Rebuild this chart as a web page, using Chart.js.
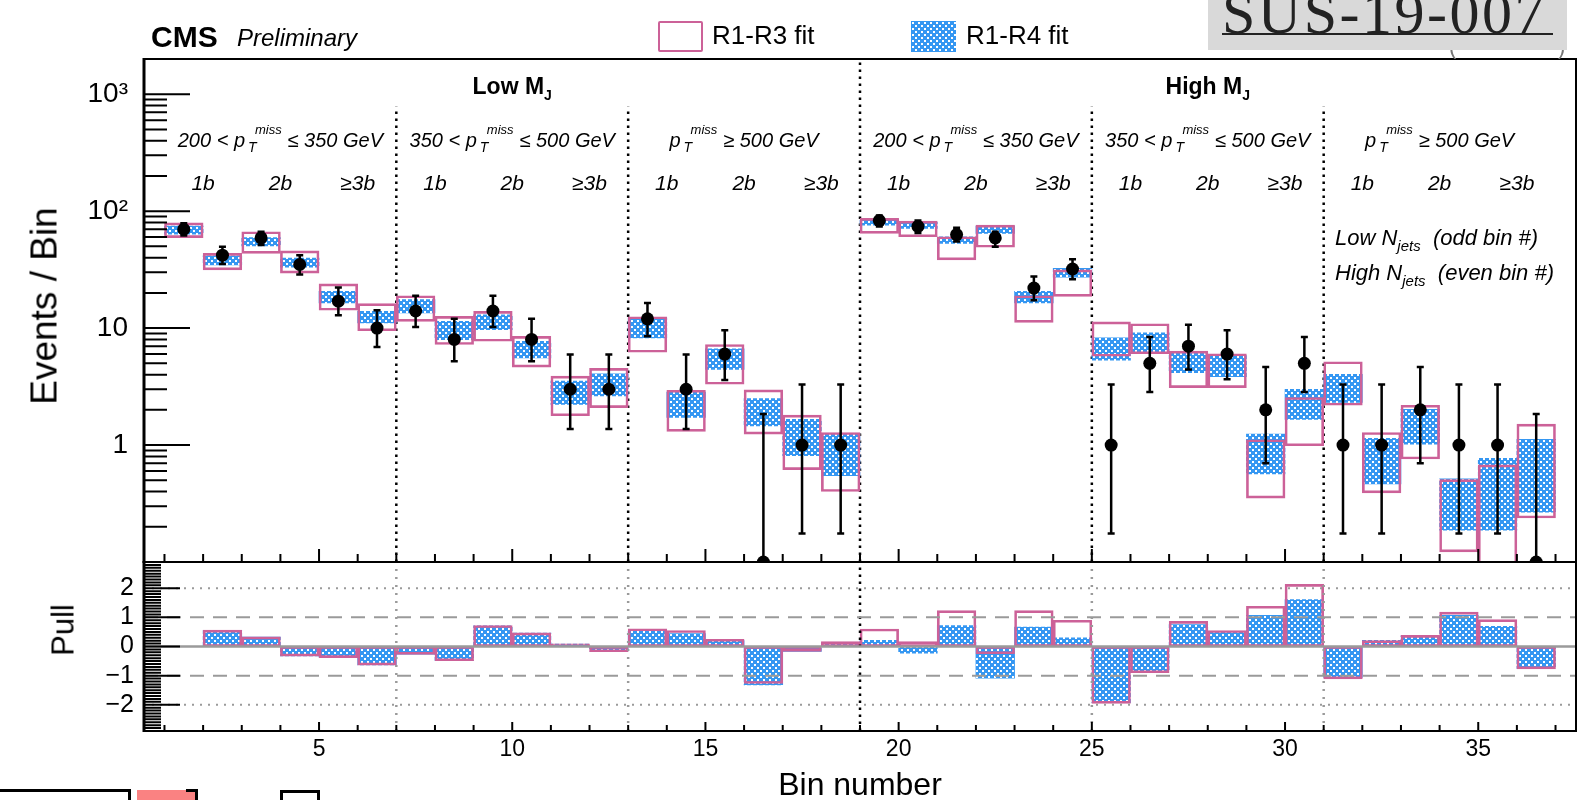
<!DOCTYPE html>
<html lang="en">
<head>
<meta charset="UTF-8" />
<title>SUS-19-007 : R1-R3 / R1-R4 fits</title>
<script src="https://cdn.jsdelivr.net/npm/chart.js"></script>
<style>
  html, body { margin: 0; padding: 0; background: #fff; }
  body { width: 1586px; height: 800px; position: relative; overflow: hidden;
         font-family: "Liberation Sans", Arial, sans-serif; }
  canvas.plot { position: absolute; left: 0; }
  .txt { position: absolute; line-height: 1; white-space: nowrap; color: #000; }
  .ms { position: relative; display: inline-block; width: 37px; height: 1px; }
  .ms .up { position: absolute; left: 10px; bottom: 11px; font-size: 13px; }
  .ms .dn { position: absolute; left: 3px; top: -6px; font-size: 14px; }
  .sbj { position: relative; top: 6px; font-size: 14px; }
  .sbn { position: relative; top: 6px; font-size: 15px; }
  .box { position: absolute; box-sizing: border-box; }
</style>
</head>
<body>

<canvas id="upper" class="plot" width="1586" height="523" style="top:49px"></canvas>
<canvas id="lower" class="plot" width="1586" height="248" style="top:552px"></canvas>

<!-- legend -->
<div class="box" style="left:658px;top:21px;width:45px;height:31px;border:2px solid #cc6198;border-radius:2px"></div>
<canvas id="legHatch" width="45" height="31" style="position:absolute;left:911px;top:21px"></canvas>

<!-- stuck-on label in the top right corner -->
<div class="txt" style="left:1449px;top:36px;font-size:22px;color:#777">(</div>
<div class="txt" style="left:1558px;top:36px;font-size:22px;color:#777">)</div>
<div class="box" style="left:1208px;top:0;width:359px;height:50px;background:#d9d9d9"></div>
<div class="txt" style="left:1222px;top:-17px;font-family:'Liberation Serif',serif;font-size:60px;letter-spacing:2.5px;color:#222">SUS-19-007</div>
<div class="box" style="left:1222px;top:33px;width:331px;height:2px;background:#222"></div>

<!-- cut-off boxes at the bottom left -->
<div class="box" style="left:-3px;top:789px;width:134px;height:20px;border:3px solid #000"></div>
<div class="box" style="left:137px;top:790px;width:61px;height:20px;background:#fa8282"></div>
<div class="box" style="left:186px;top:789px;width:12px;height:20px;border-top:3px solid #000;border-right:3px solid #000"></div>
<div class="box" style="left:280px;top:790px;width:40px;height:20px;border:3px solid #000"></div>

<script>
// ---------------- DATA ----------------
const bins = [1, 2, 3, 4, 5, 6, 7, 8, 9, 10, 11, 12, 13, 14, 15, 16, 17, 18,
              19, 20, 21, 22, 23, 24, 25, 26, 27, 28, 29, 30, 31, 32, 33, 34, 35, 36];

// observed events and their error bar ends
const observed   = [70, 42, 59, 35, 17, 10, 14, 8, 14, 8, 3, 3, 12, 3, 6, 0, 1, 1,
                    83, 74, 63, 59, 22, 32, 1, 5, 7, 6, 2, 5, 1, 1, 2, 1, 1, 0];
const obsErrLow  = [62, 35.4, 51.4, 28.7, 12.9, 6.9, 10.2, 5.2, 10.2, 5.2, 1.37, 1.37, 8.5, 1.37, 3.6, 0, 0.175, 0.175,
                    74, 65, 55, 49.7, 17.3, 26.2, 0.175, 2.84, 4.43, 3.65, 0.7, 2.84, 0.175, 0.175, 0.7, 0.175, 0.175, 0];
const obsErrHigh = [79, 49.7, 66.7, 42, 22.2, 14.2, 18.9, 12, 18.9, 12, 5.95, 5.95, 16.4, 5.95, 9.6, 1.84, 3.3, 3.3,
                    92, 83, 72, 66.7, 27.6, 38.8, 3.3, 8.4, 10.7, 9.6, 4.64, 8.4, 3.3, 3.3, 4.64, 3.3, 3.3, 1.84];

// R1-R3 fit band (pink boxes)
const r13Low  = [59.3, 31.5, 43.6, 29.5, 14.2, 9.5, 11.4, 7.24, 7.72, 4.64, 1.78, 2.09, 6.22, 1.31, 3.31, 1.24, 0.616, 0.401,
                 64.6, 60.4, 38.3, 49.1, 11.2, 18.7, 5.75, 6.03, 3.1, 3.1, 0.352, 0.986, 2.19, 0.39, 0.76, 0.122, 0.05, 0.238];
const r13High = [79.5, 43.6, 66.7, 45.7, 23.9, 16.2, 18.9, 12.6, 13.9, 8.51, 3.89, 4.52, 12.5, 2.94, 7.24, 2.96, 1.8, 1.28,
                 86.7, 82.2, 60.4, 76, 18.9, 31.5, 11.3, 10.9, 6.35, 6.03, 1.11, 2.55, 5.16, 1.28, 2.19, 0.507, 0.676, 1.51];

// R1-R4 fit band (blue hatch)
const r14Low  = [63.7, 34.7, 50.4, 33.2, 16.4, 11.1, 13.5, 7.98, 9.71, 5.57, 2.23, 2.63, 8.26, 1.72, 4.43, 1.46, 0.811, 0.548,
                 76, 71.2, 53.1, 64.6, 16.4, 27.3, 5.32, 6.15, 4.16, 3.85, 0.567, 1.66, 2.31, 0.466, 1.02, 0.187, 0.187, 0.267];
const r14High = [74.5, 41.4, 59.3, 39.6, 20.6, 13.9, 17.5, 11.4, 13, 7.72, 3.53, 4.07, 12.2, 2.84, 6.65, 2.5, 1.66, 1.24,
                 85, 80.1, 60.4, 74.5, 20.6, 32.5, 8.26, 9.1, 6.15, 5.83, 1.24, 3, 4.02, 1.14, 2.02, 0.514, 0.77, 1.12];

// pulls
const pullR13 = [0, 0.56, 0.33, -0.33, -0.38, -0.64, -0.27, -0.49, 0.72, 0.47, 0.09, -0.18, 0.61, 0.55, 0.25, -1.27, -0.17, 0.17,
                 0.6, 0.17, 1.23, -0.25, 1.23, 0.9, -1.95, -0.9, 0.86, 0.55, 1.38, 2.13, -1.11, 0.2, 0.38, 1.18, 0.92, -0.77];
const pullR14 = [0, 0.55, 0.32, -0.32, -0.37, -0.63, -0.26, -0.48, 0.71, 0.46, 0.08, -0.15, 0.52, 0.44, 0.2, -1.32, -0.17, 0.11,
                 0.21, -0.23, 0.72, -1.09, 0.67, 0.3, -1.93, -0.86, 0.75, 0.49, 1.07, 1.61, -1.06, 0.21, 0.37, 1.07, 0.69, -0.75];

// region dividers and labels
const metEdges   = [7, 13, 25, 31];
const mjEdge     = 19;
const metTop     = 780;           // where the short dividers stop
const groupCenters = [4, 10, 16, 22, 28, 34];
const metLabels  = ['200 &lt; p{T} &le; 350 GeV', '350 &lt; p{T} &le; 500 GeV', 'p{T} &ge; 500 GeV',
                    '200 &lt; p{T} &le; 350 GeV', '350 &lt; p{T} &le; 500 GeV', 'p{T} &ge; 500 GeV'];
const bLabels    = ['1b', '2b', '&ge;3b'];
const xTicks     = [5, 10, 15, 20, 25, 30, 35];
const yTicks     = [1, 10, 100, 1000];
const yTickText  = {1: '1', 10: '10', 100: '10\u00b2', 1000: '10\u00b3'};
const pullTicks  = [-2, -1, 0, 1, 2];

const X_MIN = 0.47, X_MAX = 37.53;
const Y_MIN = 0.1, Y_MAX = 2000;
const PULL_MIN = -2.9, PULL_MAX = 2.9;

const PINK = '#cc6198';
const BLUE = '#3597f2';
const GRAY = '#9a9a9a';

Chart.defaults.font.family = "'Liberation Sans', Arial, sans-serif";
Chart.defaults.color = '#000';

// blue hatch like the ROOT fill style
function makeHatch(ctx) {
  const c = document.createElement('canvas');
  c.width = 6; c.height = 6;
  const g = c.getContext('2d');
  g.fillStyle = BLUE; g.fillRect(0, 0, 6, 6);
  g.fillStyle = '#fff';
  g.fillRect(1, 1, 2, 2);
  g.fillRect(4, 4, 2, 2);
  return ctx.createPattern(c, 'repeat');
}

const centers = bins.map(b => b + 0.5);

// inward ROOT style ticks and frame
function rootAxes(cfg) {
  return {
    id: 'rootAxes',
    afterDraw(chart) {
      const {ctx, chartArea: a, scales: {x, y}} = chart;
      ctx.save();
      ctx.strokeStyle = '#000';
      ctx.lineWidth = 2;
      ctx.beginPath();
      cfg.yMinor.forEach(v => { const p = y.getPixelForValue(v); ctx.moveTo(a.left, p); ctx.lineTo(a.left + cfg.yMinorLen, p); });
      cfg.yMajor.forEach(v => { const p = y.getPixelForValue(v); ctx.moveTo(a.left, p); ctx.lineTo(a.left + cfg.yMajorLen, p); });
      cfg.xMinor.forEach(v => { const p = x.getPixelForValue(v); ctx.moveTo(p, a.bottom); ctx.lineTo(p, a.bottom - cfg.xMinorLen); });
      cfg.xMajor.forEach(v => { const p = x.getPixelForValue(v); ctx.moveTo(p, a.bottom); ctx.lineTo(p, a.bottom - cfg.xMajorLen); });
      ctx.stroke();
      ctx.strokeRect(a.left, a.top, a.right - a.left, a.bottom - a.top);
      ctx.lineWidth = 3;
      ctx.beginPath(); ctx.moveTo(a.left, a.top - 1); ctx.lineTo(a.left, a.bottom + 1); ctx.stroke();
      ctx.restore();
    }
  };
}

// error bars on the data points
const errorBars = {
  id: 'errorBars',
  afterDatasetsDraw(chart) {
    const {ctx, chartArea: a, scales: {x, y}} = chart;
    ctx.save();
    ctx.beginPath(); ctx.rect(a.left, a.top, a.right - a.left, a.bottom - a.top); ctx.clip();
    ctx.strokeStyle = '#000';
    ctx.lineWidth = 2.5;
    centers.forEach((c, i) => {
      const px = x.getPixelForValue(c);
      const lo = y.getPixelForValue(Math.max(obsErrLow[i], Y_MIN));
      const hi = y.getPixelForValue(obsErrHigh[i]);
      ctx.beginPath();
      ctx.moveTo(px, lo); ctx.lineTo(px, hi);
      ctx.moveTo(px - 3.5, hi); ctx.lineTo(px + 3.5, hi);
      if (obsErrLow[i] > Y_MIN) { ctx.moveTo(px - 3.5, lo); ctx.lineTo(px + 3.5, lo); }
      ctx.stroke();
    });
    ctx.restore();
  }
};

const upperCtx = document.getElementById('upper').getContext('2d');
const hatch = makeHatch(upperCtx);

function vline(xv, y0, y1, color, dash, order) {
  return { type: 'line', data: [{x: xv, y: y0}, {x: xv, y: y1}], borderColor: color, borderWidth: 2.5,
           borderDash: dash, pointRadius: 0, order: order, clip: 0 };
}
function hline(yv, color, dash, width, order) {
  return { type: 'line', data: [{x: X_MIN, y: yv}, {x: X_MAX, y: yv}], borderColor: color, borderWidth: width,
           borderDash: dash, pointRadius: 0, order: order, clip: 0 };
}

const barCommon = { grouped: false, barPercentage: 1, categoryPercentage: 1, borderSkipped: false, clip: 0 };

// minor tick lists
const upMinor = [];
[0.1, 1, 10, 100].forEach(d => { for (let k = 2; k <= 9; k++) upMinor.push(k * d); });
const intMinor = [];
for (let k = 1; k <= 37; k++) if (k % 5) intMinor.push(k);
const pullMinor = [];
for (let k = -29; k <= 29; k++) if (k % 10) pullMinor.push(k / 10);

// fixed axis boxes, no label overhang padding
const fixY = s => { s.width = 144; s.paddingTop = 0; s.paddingBottom = 0; };
const fixX = s => { s.height = 69; s.paddingLeft = 0; s.paddingRight = 0; };

const upper = new Chart(upperCtx, {
  type: 'bar',
  data: {
    datasets: [
      { type: 'scatter', label: 'Data', data: centers.map((c, i) => ({x: c, y: Math.max(observed[i], Y_MIN)})),
        pointRadius: 6.5, pointHoverRadius: 6.5, backgroundColor: '#000', borderWidth: 0, order: 0, clip: 0 },
      Object.assign({ label: 'R1-R3 fit', data: centers.map((c, i) => ({x: c, y: [r13Low[i], r13High[i]]})),
        backgroundColor: 'rgba(0,0,0,0)', borderColor: PINK, borderWidth: 2, order: 1 }, barCommon),
      Object.assign({ label: 'R1-R4 fit', data: centers.map((c, i) => ({x: c, y: [r14Low[i], r14High[i]]})),
        backgroundColor: hatch, borderWidth: 0, order: 2 }, barCommon),
      ...metEdges.map(e => vline(e, Y_MIN, metTop, '#000', [2.5, 4.5], 3)),
      vline(mjEdge, Y_MIN, Y_MAX, '#000', [2.5, 4.5], 3)
    ]
  },
  options: {
    responsive: false, animation: false, devicePixelRatio: 1,
    layout: { padding: { left: 0, right: 10, top: 10, bottom: 10 } },
    plugins: { legend: { display: false }, tooltip: { enabled: false } },
    scales: {
      x: { type: 'linear', min: X_MIN, max: X_MAX, offset: false, display: false,
           afterBuildTicks: s => { s.ticks = xTicks.map(v => ({value: v})); } },
      y: { type: 'logarithmic', min: Y_MIN, max: Y_MAX,
           afterFit: fixY,
           afterBuildTicks: s => { s.ticks = yTicks.map(v => ({value: v})); },
           grid: { display: false, drawTicks: false }, border: { display: false },
           ticks: { padding: 16, font: { size: 28 }, color: '#000', autoSkip: false,
                    callback: v => yTickText[v] || '' } }
    }
  },
  plugins: [errorBars, rootAxes({ yMajor: yTicks, yMinor: upMinor, yMajorLen: 46, yMinorLen: 23,
                                  xMajor: xTicks, xMinor: intMinor, xMajorLen: 13, xMinorLen: 8 })]
});

const lowerCtx = document.getElementById('lower').getContext('2d');

const lower = new Chart(lowerCtx, {
  type: 'bar',
  data: {
    datasets: [
      hline(0, GRAY, [], 2.5, 0),
      hline(1, GRAY, [14, 9], 2, 0),
      hline(-1, GRAY, [14, 9], 2, 0),
      hline(2, GRAY, [2, 6], 2, 0),
      hline(-2, GRAY, [2, 6], 2, 0),
      ...metEdges.map(e => vline(e, PULL_MIN, PULL_MAX, GRAY, [2, 6], 0)),
      vline(mjEdge, PULL_MIN, PULL_MAX, '#000', [2.5, 4.5], 0),
      Object.assign({ label: 'R1-R3 fit', data: centers.map((c, i) => ({x: c, y: [0, pullR13[i]]})),
        backgroundColor: 'rgba(0,0,0,0)', borderColor: PINK, borderWidth: 2, order: 1 }, barCommon),
      Object.assign({ label: 'R1-R4 fit', data: centers.map((c, i) => ({x: c, y: [0, pullR14[i]]})),
        backgroundColor: hatch, borderWidth: 0, order: 2 }, barCommon)
    ]
  },
  options: {
    responsive: false, animation: false, devicePixelRatio: 1,
    layout: { padding: { left: 0, right: 10, top: 10, bottom: 0 } },
    plugins: { legend: { display: false }, tooltip: { enabled: false } },
    scales: {
      x: { type: 'linear', min: X_MIN, max: X_MAX, offset: false,
           afterBuildTicks: s => { s.ticks = xTicks.map(v => ({value: v})); },
           afterFit: fixX,
           grid: { display: false, drawTicks: false }, border: { display: false },
           ticks: { padding: 5, font: { size: 23 }, color: '#000', autoSkip: false, maxRotation: 0 } },
      y: { type: 'linear', min: PULL_MIN, max: PULL_MAX,
           afterFit: fixY,
           afterBuildTicks: s => { s.ticks = pullTicks.map(v => ({value: v})); },
           grid: { display: false, drawTicks: false }, border: { display: false },
           ticks: { padding: 10, font: { size: 25 }, color: '#000', autoSkip: false,
                    callback: v => v < 0 ? '\u2212' + (-v) : String(v) } }
    }
  },
  plugins: [rootAxes({ yMajor: pullTicks, yMinor: pullMinor, yMajorLen: 36, yMinorLen: 17,
                       xMajor: xTicks, xMinor: intMinor, xMajorLen: 9, xMinorLen: 6 })]
});

// legend hatch swatch
const lh = document.getElementById('legHatch').getContext('2d');
lh.fillStyle = makeHatch(lh);
lh.fillRect(0, 0, 45, 31);

// ---------------- TEXT ----------------
function addText(html, x, base, size, css, center) {
  const d = document.createElement('div');
  d.className = 'txt';
  d.style.fontSize = size + 'px';
  d.style.left = x + 'px';
  d.style.top = (base - 0.8465 * size) + 'px';
  if (css) d.style.cssText += css;
  if (center) d.style.transform = 'translateX(-50%)';
  d.innerHTML = html;
  document.body.appendChild(d);
  return d;
}
const ptmiss = '<i>p</i><span class="ms"><i class="up">miss</i><i class="dn">T</i></span>';
const xs = upper.scales.x;

addText('<b>CMS</b>', 151, 47, 30);
addText('<i>Preliminary</i>', 237, 46, 24);
addText('R1-R3 fit', 712, 44, 26);
addText('R1-R4 fit', 966, 44, 26);

addText('<b>Low M<span class="sbj">J</span></b>', xs.getPixelForValue(groupCenters[1]), 94.5, 23, '', true);
addText('<b>High M<span class="sbj">J</span></b>', xs.getPixelForValue(groupCenters[4]), 94.5, 23, '', true);

groupCenters.forEach((g, k) => {
  addText('<i>' + metLabels[k].replace('p{T}', '</i>' + ptmiss + '<i>') + '</i>',
          xs.getPixelForValue(g), 146.5, 20, '', true);
  bLabels.forEach((b, j) => {
    addText('<i>' + b + '</i>', xs.getPixelForValue(g - 2 + 2 * j), 190, 21, '', true);
  });
});

addText('<i>Low N<span class="sbn">jets</span>&nbsp;&nbsp;(odd bin #)</i>', 1335, 246, 22);
addText('<i>High N<span class="sbn">jets</span>&nbsp;&nbsp;(even bin #)</i>', 1335, 281, 22);

const ax = lower.chartArea;
addText('Bin number', (ax.left + ax.right) / 2, 795, 32, '', true);

function addYTitle(text, cx, cy, size) {
  const d = document.createElement('div');
  d.className = 'txt';
  d.style.fontSize = size + 'px';
  d.style.left = cx + 'px';
  d.style.top = cy + 'px';
  d.style.transform = 'translate(-50%, -50%) rotate(-90deg)';
  d.textContent = text;
  document.body.appendChild(d);
}
addYTitle('Events / Bin', 44, 306, 37);
addYTitle('Pull', 63, 630, 31);
</script>
</body>
</html>
